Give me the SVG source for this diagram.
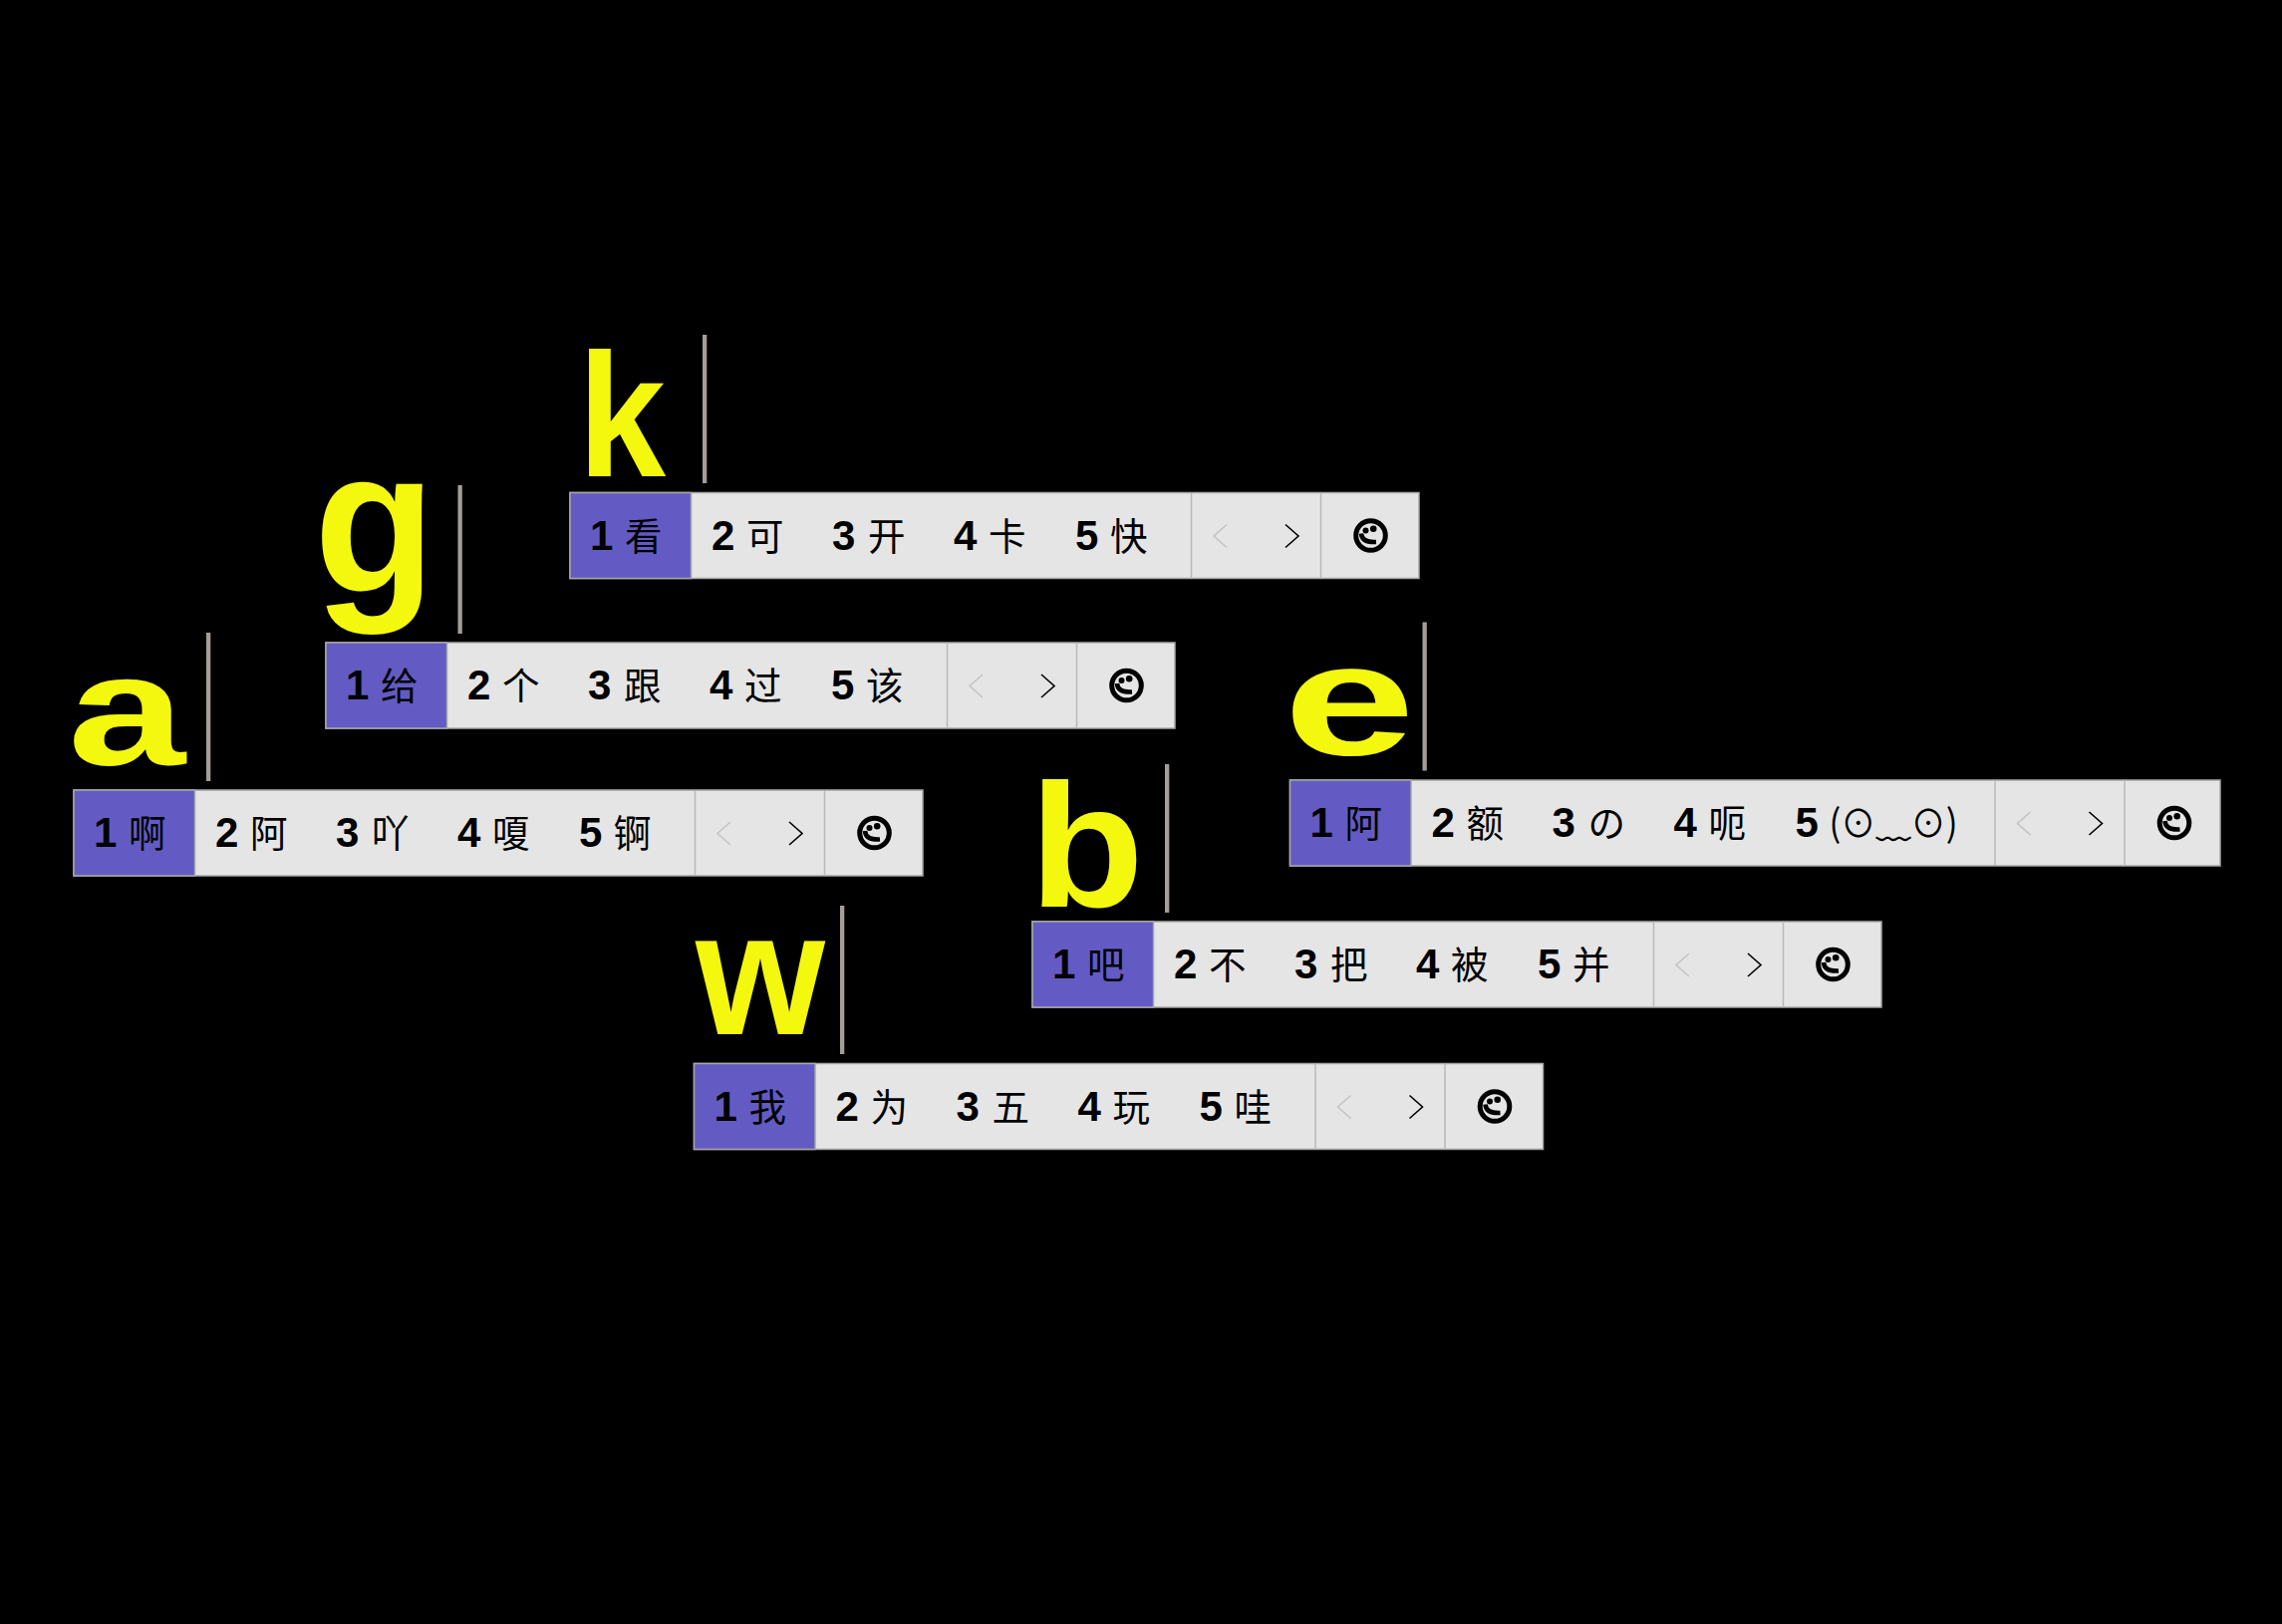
<svg xmlns="http://www.w3.org/2000/svg" width="2290" height="1630" viewBox="0 0 2290 1630">
<style>
.bar{fill:#e5e5e5;stroke:#a6a6a6;stroke-width:1.5}
.hi{fill:#635bc3;stroke:#a6a6a6;stroke-width:1.5}
.sep{stroke:#b9b9b9;stroke-width:1.5}
.cur{fill:#a59d97}
.l{font-family:"Liberation Sans",sans-serif;font-weight:700;fill:#f4f80f}
.d{font-family:"Liberation Sans",sans-serif;font-weight:700;font-size:42px;fill:#000}
.c{font-family:"Noto Sans CJK SC",sans-serif;font-weight:400;font-size:37.500px;fill:#000}
.off{fill:none;stroke:#c4c4c4;stroke-width:1.6}
.on{fill:none;stroke:#000;stroke-width:1.6}
.sm{fill:none;stroke:#000;stroke-width:5}
.sm2{fill:none;stroke:#000;stroke-width:4.500}
</style>
<defs>
<g id="face">
<circle class="sm" cx="0" cy="0" r="14.800"/>
<circle cx="-5" cy="-5" r="3" fill="#000"/>
<circle cx="2.700" cy="-6.700" r="3.300" fill="#000"/>
<path class="sm2" d="M-9.500 -2 C-9 5 -3 7 5.500 6.500"/>
</g>
<g id="chrome">
<rect class="bar" x="0" y="0" width="852" height="86"/>
<rect class="hi" x="0" y="0" width="121.500" height="86"/>
<line class="sep" x1="623.500" y1="0" x2="623.500" y2="86"/>
<line class="sep" x1="753.500" y1="0" x2="753.500" y2="86"/>
<path class="off" d="M659 32 L646 43.500 L659 55"/>
<path class="on" d="M718 32 L731 43.500 L718 55"/>
<use href="#face" x="803.500" y="43"/>
</g>
</defs>
<rect width="2290" height="1630" fill="#000"/>
<g id="node-k">
<text class="l" x="580" y="478" font-size="176" textLength="88" lengthAdjust="spacingAndGlyphs">k</text>
<rect class="cur" x="705" y="336" width="4.300" height="149"/>
<use href="#chrome" x="572" y="494.500"/>
<g transform="translate(572,494.500)">
<text class="d" x="20" y="57">1</text><text class="c" x="55" y="57">看</text>
<text class="d" x="142" y="57">2</text><text class="c" x="177" y="57">可</text>
<text class="d" x="263" y="57">3</text><text class="c" x="299" y="57">开</text>
<text class="d" x="385" y="57">4</text><text class="c" x="420" y="57">卡</text>
<text class="d" x="507" y="57">5</text><text class="c" x="542" y="57">快</text>
</g>
</g>
<g id="node-g">
<text class="l" x="315" y="594" font-size="205" textLength="122" lengthAdjust="spacingAndGlyphs">g</text>
<rect class="cur" x="459.500" y="487" width="4.300" height="149"/>
<use href="#chrome" x="327" y="645"/>
<g transform="translate(327,645)">
<text class="d" x="20" y="57">1</text><text class="c" x="55" y="57">给</text>
<text class="d" x="142" y="57">2</text><text class="c" x="177" y="57">个</text>
<text class="d" x="263" y="57">3</text><text class="c" x="299" y="57">跟</text>
<text class="d" x="385" y="57">4</text><text class="c" x="420" y="57">过</text>
<text class="d" x="507" y="57">5</text><text class="c" x="542" y="57">该</text>
</g>
</g>
<g id="node-a">
<text class="l" x="68" y="767" font-size="160" textLength="118" lengthAdjust="spacingAndGlyphs">a</text>
<rect class="cur" x="207" y="635" width="4.300" height="149"/>
<use href="#chrome" x="74" y="793"/>
<g transform="translate(74,793)">
<text class="d" x="20" y="57">1</text><text class="c" x="55" y="57">啊</text>
<text class="d" x="142" y="57">2</text><text class="c" x="177" y="57">阿</text>
<text class="d" x="263" y="57">3</text><text class="c" x="299" y="57">吖</text>
<text class="d" x="385" y="57">4</text><text class="c" x="420" y="57">嗄</text>
<text class="d" x="507" y="57">5</text><text class="c" x="542" y="57">锕</text>
</g>
</g>
<g id="node-e">
<text class="l" x="1288" y="757" font-size="160" textLength="132" lengthAdjust="spacingAndGlyphs">e</text>
<rect class="cur" x="1427.500" y="624.500" width="4.300" height="149"/>
<g transform="translate(1294.500,783)">
<rect class="bar" x="0" y="0" width="933.500" height="86"/>
<rect class="hi" x="0" y="0" width="121.500" height="86"/>
<line class="sep" x1="707.500" y1="0" x2="707.500" y2="86"/>
<line class="sep" x1="837.500" y1="0" x2="837.500" y2="86"/>
<path class="off" d="M743 32 L730 43.500 L743 55"/>
<path class="on" d="M802 32 L815 43.500 L802 55"/>
<use href="#face" x="887.500" y="43"/>
<text class="d" x="20" y="57">1</text><text class="c" x="55" y="57">阿</text>
<text class="d" x="142" y="57">2</text><text class="c" x="177" y="57">额</text>
<text class="d" x="263" y="57">3</text><text class="c" x="299" y="57">の</text>
<text class="d" x="385" y="57">4</text><text class="c" x="420" y="57">呃</text>
<text class="d" x="507" y="57">5</text><text class="c" x="541" y="57" textLength="129" lengthAdjust="spacingAndGlyphs">(⊙﹏⊙)</text>
</g>
</g>
<g id="node-b">
<text class="l" x="1033" y="910" font-size="176" textLength="115" lengthAdjust="spacingAndGlyphs">b</text>
<rect class="cur" x="1169" y="767" width="4.300" height="149"/>
<use href="#chrome" x="1036" y="925"/>
<g transform="translate(1036,925)">
<text class="d" x="20" y="57">1</text><text class="c" x="55" y="57">吧</text>
<text class="d" x="142" y="57">2</text><text class="c" x="177" y="57">不</text>
<text class="d" x="263" y="57">3</text><text class="c" x="299" y="57">把</text>
<text class="d" x="385" y="57">4</text><text class="c" x="420" y="57">被</text>
<text class="d" x="507" y="57">5</text><text class="c" x="542" y="57">并</text>
</g>
</g>
<g id="node-w">
<text class="l" x="698" y="1038" font-size="176" textLength="130" lengthAdjust="spacingAndGlyphs">w</text>
<rect class="cur" x="843" y="909" width="4.300" height="149"/>
<use href="#chrome" x="696.500" y="1067.500"/>
<g transform="translate(696.500,1067.500)">
<text class="d" x="20" y="57">1</text><text class="c" x="55" y="57">我</text>
<text class="d" x="142" y="57">2</text><text class="c" x="177" y="57">为</text>
<text class="d" x="263" y="57">3</text><text class="c" x="299" y="57">五</text>
<text class="d" x="385" y="57">4</text><text class="c" x="420" y="57">玩</text>
<text class="d" x="507" y="57">5</text><text class="c" x="542" y="57">哇</text>
</g>
</g>
<g id="connectors"/>
</svg>
